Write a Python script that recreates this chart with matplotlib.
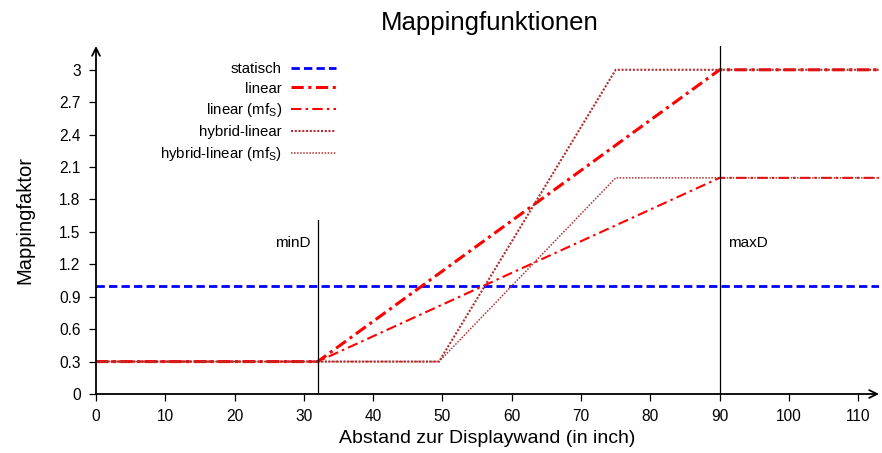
import numpy as np
import matplotlib.pyplot as plt

plt.rcParams['font.family'] = ['Liberation Sans', 'DejaVu Sans']
plt.rcParams['mathtext.fontset'] = 'custom'
plt.rcParams['mathtext.rm'] = 'Liberation Sans'

# Abstand (inch) an den Knickpunkten
xStatic = [0, 113]
yStatic = [1.0, 1.0]

xLinear = [0, 32, 90, 113]
yLinear = [0.3, 0.3, 3.0, 3.0]
yLinearMfs = [0.3, 0.3, 2.0, 2.0]

xHybrid = [0, 49.5, 75, 113]
yHybrid = [0.3, 0.3, 3.0, 3.0]
yHybridMfs = [0.3, 0.3, 2.0, 2.0]

minD = 32
maxD = 90

xTicks = list(range(0, 111, 10))
yTicks = [0, 0.3, 0.6, 0.9, 1.2, 1.5, 1.8, 2.1, 2.4, 2.7, 3]
yTickLabels = ['0', '0.3', '0.6', '0.9', '1.2', '1.5', '1.8', '2.1', '2.4', '2.7', '3']

fig = plt.figure(figsize=(8.82, 4.53), dpi=100)
ax = fig.add_axes([96 / 882, 1 - 394 / 453, 783 / 882, 348 / 453])

ax.plot(xStatic, yStatic, color='#0000ff', linestyle=(0, (3, 1.5)), lw=2.0, label='statisch')
ax.plot(xLinear, yLinear, color='#ff0000', linestyle=(0, (4, 1.5, 1, 1.5)), lw=2.2, label='linear')
ax.plot(xLinear, yLinearMfs, color='#ff0000', linestyle=(0, (5, 2, 1.2, 2)), lw=1.5,
        label=r'linear (mf$_\mathrm{S}$)')
ax.plot(xHybrid, yHybrid, color='#b03030', linestyle=(0, (1, 0.8)), lw=1.5, label='hybrid-linear')
ax.plot(xHybrid, yHybridMfs, color='#b03030', linestyle=(0, (1, 1)), lw=1.1,
        label=r'hybrid-linear (mf$_\mathrm{S}$)')

# Markierungen minD / maxD
ax.plot([minD, minD], [0, 1.61], color='black', lw=0.9)
ax.plot([maxD, maxD], [0, 3.22], color='black', lw=0.9)
ax.text(minD - 1, 1.4, 'minD', ha='right', va='center', fontsize=11)
ax.text(maxD + 1.2, 1.4, 'maxD', ha='left', va='center', fontsize=11)

ax.set_xlim(0, 113)
ax.set_ylim(0, 3.22)
ax.set_xticks(xTicks)
ax.set_yticks(yTicks)
ax.set_yticklabels(yTickLabels)
ax.tick_params(direction='out', length=5, width=0.9, labelsize=11.2, pad=6)

for side in ['top', 'right', 'left', 'bottom']:
    ax.spines[side].set_visible(False)
ax.annotate('', xy=(1, 0), xytext=(0, 0), xycoords='axes fraction',
            arrowprops=dict(arrowstyle='->', lw=1.3, color='black', shrinkA=0, shrinkB=0,
                            mutation_scale=14))
ax.annotate('', xy=(0, 1), xytext=(0, 0), xycoords='axes fraction',
            arrowprops=dict(arrowstyle='->', lw=1.3, color='black', shrinkA=0, shrinkB=0,
                            mutation_scale=14))

ax.set_xlabel('Abstand zur Displaywand (in inch)', fontsize=14, labelpad=4)
ax.set_ylabel('Mappingfaktor', fontsize=14.5, labelpad=18)
fig.text(0.555, 1 - 23 / 453, 'Mappingfunktionen', ha='center', va='center', fontsize=18.5)

ax.legend(loc='upper right', bbox_to_anchor=(336 / 882, 1 - 62 / 453),
          bbox_transform=fig.transFigure, frameon=False, markerfirst=False,
          fontsize=10.8, handlelength=3.0, handletextpad=0.6, labelspacing=0.38,
          borderpad=0, borderaxespad=0)

fig.savefig('out.png', dpi=100)
